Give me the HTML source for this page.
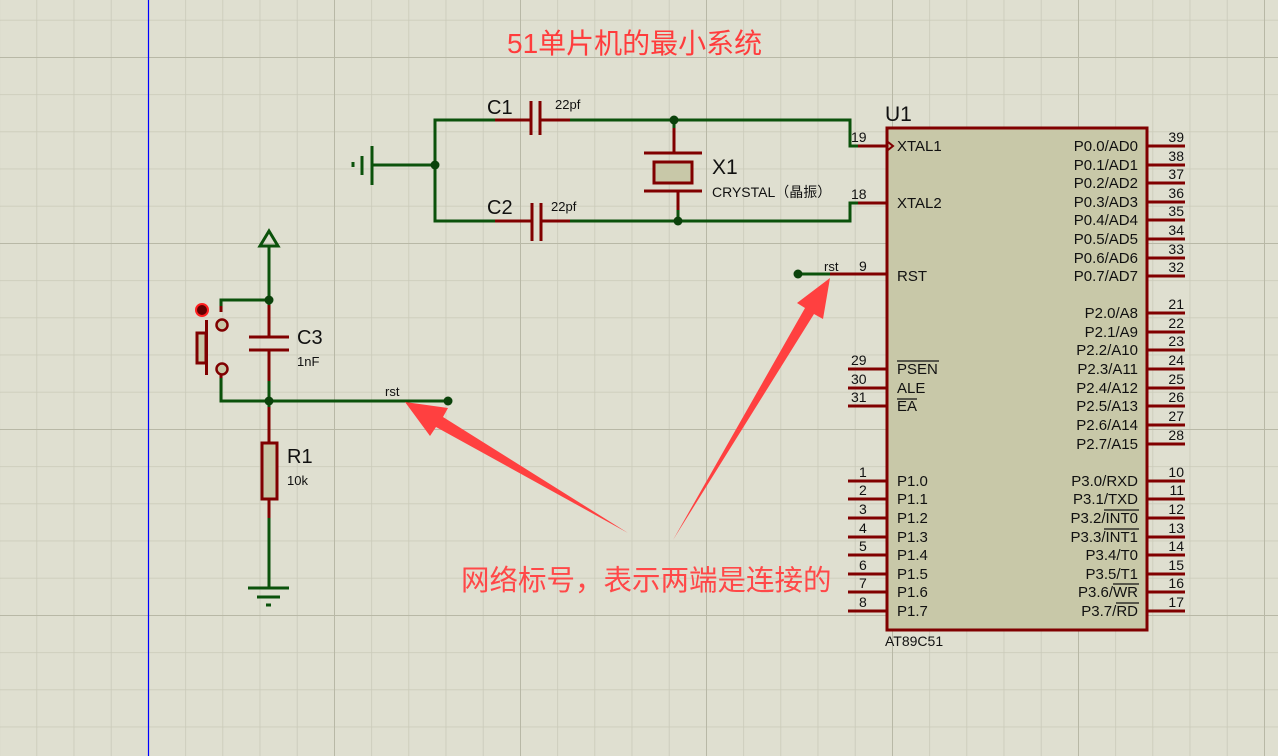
<!DOCTYPE html>
<html><head><meta charset="utf-8"><style>
html,body{margin:0;padding:0;background:#dfdfd0;}
svg{display:block}
text{font-family:"Liberation Sans","Noto Sans CJK SC",sans-serif;}
</style></head><body>
<svg width="1278" height="756" viewBox="0 0 1278 756" xmlns="http://www.w3.org/2000/svg">
<defs>
<pattern id="g" x="-0.8" y="19.8" width="37.2" height="37.2" patternUnits="userSpaceOnUse">
<path d="M0 0V37.2M0 0H37.2" stroke="#c9c9b8" stroke-width="1.5" fill="none"/>
</pattern>
<pattern id="G" x="148" y="57" width="186" height="186" patternUnits="userSpaceOnUse">
<path d="M0 0V186M0 0H186" stroke="#b8b8a6" stroke-width="2" fill="none"/>
</pattern>
</defs>
<rect width="1278" height="756" fill="#dfdfd0"/>
<rect width="1278" height="756" fill="url(#g)"/>
<rect width="1278" height="756" fill="url(#G)"/>
<line x1="148.5" y1="0" x2="148.5" y2="756" stroke="#0000ff" stroke-width="1.2"/>

<text x="507" y="53" font-size="28" fill="#ff3c3c">51单片机的最小系统</text>

<g stroke="#0b520b" stroke-width="3" fill="none">
<path d="M495 120H435V221H495"/>
<path d="M570 120H850V146H858"/>
<path d="M570 221H850V203H858"/>
<path d="M674 120V128"/>
<path d="M678 221V210"/>
<path d="M435 165H372"/>
<path d="M269 247V300H221V306"/>
<path d="M269 300V305"/>
<path d="M269 381V401"/>
<path d="M221 378V401H448"/>
<path d="M269 401V407"/>
<path d="M269 518V588"/>
<path d="M798 274H830"/>
</g>
<g stroke="#0b520b" stroke-width="3">
<line x1="372" y1="146" x2="372" y2="185"/>
<line x1="362" y1="156" x2="362" y2="175"/>
<line x1="353" y1="162" x2="353" y2="167"/>
<line x1="248" y1="588" x2="289" y2="588"/>
<line x1="257" y1="597" x2="280" y2="597"/>
<line x1="266" y1="605" x2="271" y2="605"/>
</g>
<path d="M269 231L260 246H278Z" fill="none" stroke="#0b520b" stroke-width="3"/>

<g stroke="#800000" stroke-width="3" fill="none">
<path d="M495 120H531M540 120H570"/>
<path d="M531 101V135M540 101V135"/>
<path d="M495 221H532M541 221H570"/>
<path d="M532 203V241M541 203V241"/>
<path d="M674 128V153M644 153H702M644 191H702M678 191V210"/>
<path d="M269 305V337M249 337H289M249 350H289M269 350V381"/>
<path d="M269 407V443M269 499V518"/>
<path d="M221 306V312M221 375V378"/>
<path d="M206.5 320V375"/>
<path d="M830 274H886"/>
</g>
<rect x="654" y="162" width="38" height="21" fill="#c8c8a8" stroke="#800000" stroke-width="3"/>
<rect x="262" y="443" width="15" height="56" fill="#c8c8a8" stroke="#800000" stroke-width="3"/>
<rect x="197" y="333" width="9" height="30" fill="#c8c8a8" stroke="#800000" stroke-width="3"/>
<circle cx="222" cy="325" r="5.5" fill="#c8c8a8" stroke="#800000" stroke-width="2.5"/>
<circle cx="222" cy="369" r="5.5" fill="#c8c8a8" stroke="#800000" stroke-width="2.5"/>
<circle cx="202" cy="310" r="6" fill="#600000" stroke="#ff2020" stroke-width="2"/>

<g fill="#0b420b">
<circle cx="674" cy="120" r="4.5"/><circle cx="678" cy="221" r="4.5"/>
<circle cx="435" cy="165" r="4.5"/><circle cx="269" cy="300" r="4.5"/>
<circle cx="269" cy="401" r="4.5"/><circle cx="448" cy="401" r="4.5"/>
<circle cx="798" cy="274" r="4.5"/>
</g>

<g fill="#111">
<text x="487" y="114" font-size="20">C1</text>
<text x="555" y="109" font-size="13">22pf</text>
<text x="487" y="214" font-size="20">C2</text>
<text x="551" y="211" font-size="13">22pf</text>
<text x="712" y="174" font-size="21">X1</text>
<text x="712" y="197" font-size="14">CRYSTAL（晶振）</text>
<text x="297" y="344" font-size="20">C3</text>
<text x="297" y="366" font-size="13">1nF</text>
<text x="287" y="463" font-size="20">R1</text>
<text x="287" y="485" font-size="13">10k</text>
<text x="385" y="396" font-size="13">rst</text>
<text x="824" y="271" font-size="13">rst</text>
<text x="885" y="121" font-size="21">U1</text>
<text x="885" y="646" font-size="14">AT89C51</text>
</g>

<rect x="887" y="128" width="260" height="502" fill="#c8c8a8" stroke="#800000" stroke-width="3"/>
<g stroke="#800000" stroke-width="3">
<path d="M858 146H887M858 203H887M848 369H887M848 388H887M848 406H887"/>
<path d="M848 481H887M848 499H887M848 518H887M848 537H887M848 555H887M848 574H887M848 592H887M848 611H887"/>
<path d="M1147 146H1185M1147 165H1185M1147 183H1185M1147 202H1185M1147 220H1185M1147 239H1185M1147 258H1185M1147 276H1185"/>
<path d="M1147 313H1185M1147 332H1185M1147 350H1185M1147 369H1185M1147 388H1185M1147 406H1185M1147 425H1185M1147 444H1185"/>
<path d="M1147 481H1185M1147 499H1185M1147 518H1185M1147 537H1185M1147 555H1185M1147 574H1185M1147 592H1185M1147 611H1185"/>
</g>
<path d="M888 142L893 146L888 150" stroke="#800000" stroke-width="2" fill="none"/>
<g font-size="14" fill="#111">
<text x="851" y="142">19</text><text x="851" y="199">18</text><text x="859" y="271">9</text>
<text x="851" y="365">29</text><text x="851" y="384">30</text><text x="851" y="402">31</text>
<text x="859" y="477">1</text><text x="859" y="495">2</text><text x="859" y="514">3</text><text x="859" y="533">4</text>
<text x="859" y="551">5</text><text x="859" y="570">6</text><text x="859" y="588">7</text><text x="859" y="607">8</text>
</g>
<g font-size="14" fill="#111" text-anchor="end">
<text x="1184" y="142">39</text><text x="1184" y="161">38</text><text x="1184" y="179">37</text><text x="1184" y="198">36</text>
<text x="1184" y="216">35</text><text x="1184" y="235">34</text><text x="1184" y="254">33</text><text x="1184" y="272">32</text>
<text x="1184" y="309">21</text><text x="1184" y="328">22</text><text x="1184" y="346">23</text><text x="1184" y="365">24</text>
<text x="1184" y="384">25</text><text x="1184" y="402">26</text><text x="1184" y="421">27</text><text x="1184" y="440">28</text>
<text x="1184" y="477">10</text><text x="1184" y="495">11</text><text x="1184" y="514">12</text><text x="1184" y="533">13</text>
<text x="1184" y="551">14</text><text x="1184" y="570">15</text><text x="1184" y="588">16</text><text x="1184" y="607">17</text>
</g>
<g font-size="15" fill="#111">
<text x="897" y="151">XTAL1</text><text x="897" y="208">XTAL2</text><text x="897" y="281">RST</text>
<text x="897" y="374">PSEN</text><text x="897" y="393">ALE</text><text x="897" y="411">EA</text>
<text x="897" y="486">P1.0</text><text x="897" y="504">P1.1</text><text x="897" y="523">P1.2</text><text x="897" y="542">P1.3</text>
<text x="897" y="560">P1.4</text><text x="897" y="579">P1.5</text><text x="897" y="597">P1.6</text><text x="897" y="616">P1.7</text>
</g>
<g stroke="#111" stroke-width="1.3">
<line x1="897" y1="361" x2="939" y2="361"/><line x1="897" y1="399" x2="917" y2="399"/>
<line x1="1104" y1="510" x2="1139" y2="510"/><line x1="1104" y1="529" x2="1139" y2="529"/>
<line x1="1113" y1="584" x2="1139" y2="584"/>
<line x1="1116" y1="603" x2="1139" y2="603"/>
</g>
<g font-size="15" fill="#111" text-anchor="end">
<text x="1138" y="151">P0.0/AD0</text><text x="1138" y="170">P0.1/AD1</text><text x="1138" y="188">P0.2/AD2</text><text x="1138" y="207">P0.3/AD3</text>
<text x="1138" y="225">P0.4/AD4</text><text x="1138" y="244">P0.5/AD5</text><text x="1138" y="263">P0.6/AD6</text><text x="1138" y="281">P0.7/AD7</text>
<text x="1138" y="318">P2.0/A8</text><text x="1138" y="337">P2.1/A9</text><text x="1138" y="355">P2.2/A10</text><text x="1138" y="374">P2.3/A11</text>
<text x="1138" y="393">P2.4/A12</text><text x="1138" y="411">P2.5/A13</text><text x="1138" y="430">P2.6/A14</text><text x="1138" y="449">P2.7/A15</text>
<text x="1138" y="486">P3.0/RXD</text><text x="1138" y="504">P3.1/TXD</text><text x="1138" y="523">P3.2/INT0</text><text x="1138" y="542">P3.3/INT1</text>
<text x="1138" y="560">P3.4/T0</text><text x="1138" y="579">P3.5/T1</text><text x="1138" y="597">P3.6/WR</text><text x="1138" y="616">P3.7/RD</text>
</g>

<polygon points="628,533 443,417 448,408 405,402 430,436 436,427" fill="#ff4040"/>
<polygon points="673,540 814,314 823,319 830,278 797,303 805,308" fill="#ff4040"/>

<text x="461" y="590" font-size="28.5" fill="#ff4848">网络标号，表示两端是连接的</text>
</svg>
</body></html>
